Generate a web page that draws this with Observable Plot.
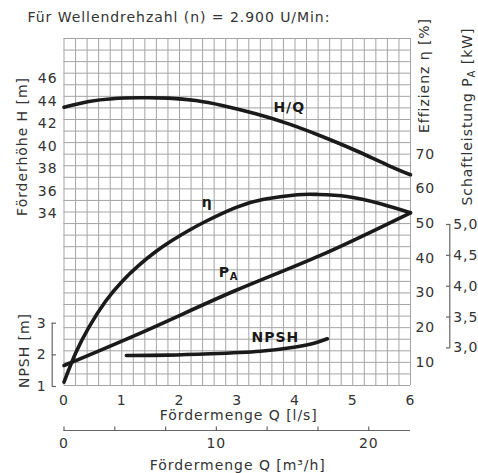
<!DOCTYPE html>
<html><head><meta charset="utf-8">
<script src="https://cdn.jsdelivr.net/npm/d3@7"></script>
<script src="https://cdn.jsdelivr.net/npm/@observablehq/plot@0.6"></script>
<style>
body{margin:0;background:#fff;}
</style></head><body><div id="chart"></div>
<script>
// ---- data ----
const hqQ = [0, 0.43, 0.84, 1.3, 1.81, 2.28, 2.74, 3.32, 3.89, 4.47, 5.05, 5.62, 6];
const hqH = [43.46, 43.97, 44.22, 44.30, 44.27, 44.06, 43.62, 42.88, 41.98, 40.86, 39.61, 38.27, 37.45];
const etaQ = [0, 0.2, 0.43, 0.72, 1.01, 1.3, 1.58, 1.87, 2.16, 2.45, 2.97, 3.46, 4.04, 4.38, 4.9, 5.48, 6];
const etaV = [4.3, 12.6, 20.1, 27.6, 33.4, 38.0, 41.8, 45.1, 48.0, 50.6, 54.6, 57.0, 58.3, 58.4, 57.8, 55.7, 53.1];
const paQ = [0, 1.49, 2.97, 4.44, 6];
const paV = [2.715, 3.31, 3.93, 4.50, 5.19];
const npQ = [1.08, 1.8, 2.54, 3.40, 3.98, 4.33, 4.56];
const npV = [1.98, 1.99, 2.033, 2.115, 2.241, 2.369, 2.508];

const hTicks = [34, 36, 38, 40, 42, 44, 46];
const etaTicks = [10, 20, 30, 40, 50, 60, 70];
const paTicks = [3.0, 3.5, 4.0, 4.5, 5.0];
const npTicks = [1, 2, 3];
const qTicks = [0, 1, 2, 3, 4, 5, 6];
const mhTicks = [0, 10, 20];
const mhMinor = [0, 10/3, 20/3, 10, 40/3, 50/3, 20];

const titleText = "Für Wellendrehzahl (n) = 2.900 U/Min:";
const xTitle1 = "Fördermenge Q [l/s]";
const xTitle2 = "Fördermenge Q [m³/h]";
const hTitle = "Förderhöhe H [m]";
const npTitle = "NPSH [m]";
const etaTitle = "Effizienz η [%]";
const paTitle = "Schaftleistung P_A [kW]";

const curveLabels = [
  {text: "H/Q", Q: 3.9, v: 43.46, kind: "H", anchor: "middle"},
  {text: "η", Q: 2.48, v: 56.2, kind: "eta", anchor: "middle"},
  {text: "P_A", Q: 2.85, v: 4.227, kind: "pa", anchor: "start"},
  {text: "NPSH", Q: 3.66, v: 2.539, kind: "np", anchor: "middle"}
];

// ---- conversions of each quantity to the common grid scale (30 rows) ----
const hToU = h => 14.87 + (h - 34) * 0.971;
const etaToU = e => 0.3 * e - 1;
const paToU = p => 3.25 + (p - 3) * 5.335;
const npToU = n => -0.086 + (n - 1) * 2.736;
const mhToQ = m => m / 3.79;
const conv = {H: hToU, eta: etaToU, pa: paToU, np: npToU};

const hq = hqQ.map((q, i) => ({Q: q, u: hToU(hqH[i])}));
const eta = etaQ.map((q, i) => ({Q: q, u: etaToU(etaV[i])}));
const pa = paQ.map((q, i) => ({Q: q, u: paToU(paV[i])}));
const np = npQ.map((q, i) => ({Q: q, u: npToU(npV[i])}));

const fmtMap = (ticks, f, fmt) => { const m = new Map(ticks.map(t => [f(t), fmt(t)])); return u => m.get(u) ?? ""; };
const comma = v => v.toFixed(1).replace(".", ",");

const ink = "#1a1a1a", gridC = "#a4a4a4", axC = "#666";
const lineOpts = {x: "Q", y: "u", stroke: ink, strokeWidth: 3.6, curve: "natural", strokeLinejoin: "round"};
const qMax = qTicks[qTicks.length - 1];

const chart = Plot.plot({
  width: 478, height: 473,
  marginLeft: 63.5, marginRight: 68, marginTop: 38, marginBottom: 88,
  x: {domain: [qTicks[0], qMax], label: null},
  y: {domain: [0, 30], label: null},
  style: {fontFamily: "'DejaVu Sans', sans-serif", fontSize: "14px", letterSpacing: "0.95px", color: "#333", background: "#fff"},
  marks: [
    Plot.gridX(d3.range(0, 31).map(i => i / 5), {stroke: gridC, strokeOpacity: 1, strokeWidth: 1}),
    Plot.gridY(d3.range(0, 31), {stroke: gridC, strokeOpacity: 1, strokeWidth: 1}),
    Plot.line(hq, lineOpts),
    Plot.line(eta, lineOpts),
    Plot.line(pa, lineOpts),
    Plot.line(np, lineOpts),
    // left H axis
    Plot.axisY(hTicks.map(hToU), {anchor: "left", tickSize: 0, tickPadding: 6.5, label: null, tickFormat: fmtMap(hTicks, hToU, String)}),
    // NPSH axis (bracket)
    Plot.ruleX([qTicks[0]], {y1: npToU(npTicks[0]), y2: npToU(npTicks[npTicks.length - 1]), dx: -11.8, stroke: axC, strokeWidth: 1.2}),
    Plot.axisY(npTicks.map(npToU), {anchor: "left", tickSize: 4.3, dx: -7.5, fill: "none", stroke: axC, strokeWidth: 1.2, label: null}),
    Plot.axisY(npTicks.map(npToU), {anchor: "left", tickSize: 0, tickPadding: 17.5, label: null, tickFormat: fmtMap(npTicks, npToU, String)}),
    // right efficiency axis
    Plot.axisY(etaTicks.map(etaToU), {anchor: "right", tickSize: 0, tickPadding: 5, label: null, tickFormat: fmtMap(etaTicks, etaToU, String)}),
    // shaft power axis (bracket)
    Plot.ruleX([qMax], {y1: paToU(paTicks[0]), y2: paToU(paTicks[paTicks.length - 1]), dx: 39.3, stroke: axC, strokeWidth: 1.2}),
    Plot.axisY(paTicks.map(paToU), {anchor: "right", tickSize: 4.3, dx: 35, fill: "none", stroke: axC, strokeWidth: 1.2, label: null}),
    Plot.axisY(paTicks.map(paToU), {anchor: "right", tickSize: 0, tickPadding: 42.7, label: null, tickFormat: fmtMap(paTicks, paToU, comma)}),
    // Q [l/s] axis
    Plot.axisX(qTicks, {anchor: "bottom", tickSize: 0, tickPadding: 9.2, label: null, tickFormat: String}),
    // Q [m3/h] axis
    Plot.ruleY([0], {x1: qTicks[0], x2: qMax, dy: 45, stroke: axC, strokeWidth: 1.2}),
    Plot.axisX(mhMinor.map(mhToQ), {anchor: "top", tickSize: 4.5, dy: 392, fill: "none", stroke: axC, strokeWidth: 1.2, label: null}),
    Plot.axisX(mhTicks.map(mhToQ), {anchor: "bottom", tickSize: 0, tickPadding: 52.9, label: null, tickFormat: fmtMap(mhTicks, mhToQ, String)}),
    // titles
    Plot.text([titleText], {frameAnchor: "top-left", textAnchor: "start", lineAnchor: "middle", dx: -36.5, dy: -21, fill: "#333"}),
    Plot.text([xTitle1], {frameAnchor: "bottom", textAnchor: "middle", lineAnchor: "middle", dx: 1.5, dy: 30, fill: "#333"}),
    Plot.text([xTitle2], {frameAnchor: "bottom", textAnchor: "middle", lineAnchor: "middle", dx: 0.5, dy: 80, fill: "#333"}),
    Plot.text([hTitle], {frameAnchor: "left", textAnchor: "middle", lineAnchor: "middle", rotate: -90, dx: -41, dy: -65.5, fill: "#333"}),
    Plot.text([npTitle], {frameAnchor: "left", textAnchor: "middle", lineAnchor: "middle", rotate: -90, dx: -39.5, dy: 138.5, fill: "#333"}),
    Plot.text([etaTitle], {frameAnchor: "right", textAnchor: "middle", lineAnchor: "middle", rotate: -90, dx: 14, dy: -136.5, fill: "#333"}),
    Plot.text([paTitle], {frameAnchor: "right", textAnchor: "middle", lineAnchor: "middle", rotate: -90, dx: 57.5, dy: -95.5, fill: "#333"}),
    // curve labels
    Plot.text(curveLabels, {x: "Q", y: d => conv[d.kind](d.v), text: "text", textAnchor: d => d.anchor, lineAnchor: "middle", fontWeight: "bold", fill: ink})
  ]
});

// subscript "A" in P_A
const ns = "http://www.w3.org/2000/svg";
chart.querySelectorAll("text").forEach(t => {
  const s = t.textContent;
  if (!s.includes("P_A")) return;
  const [a, b] = s.split("P_A");
  t.textContent = "";
  const add = (txt, attrs) => { const ts = document.createElementNS(ns, "tspan"); ts.textContent = txt; for (const k in attrs) ts.setAttribute(k, attrs[k]); t.appendChild(ts); };
  add(a + "P", {});
  add("A", {"font-size": "10px", dy: "3px"});
  if (b) add(b, {dy: "-3px"});
});
document.getElementById("chart").appendChild(chart);
</script></body></html>
